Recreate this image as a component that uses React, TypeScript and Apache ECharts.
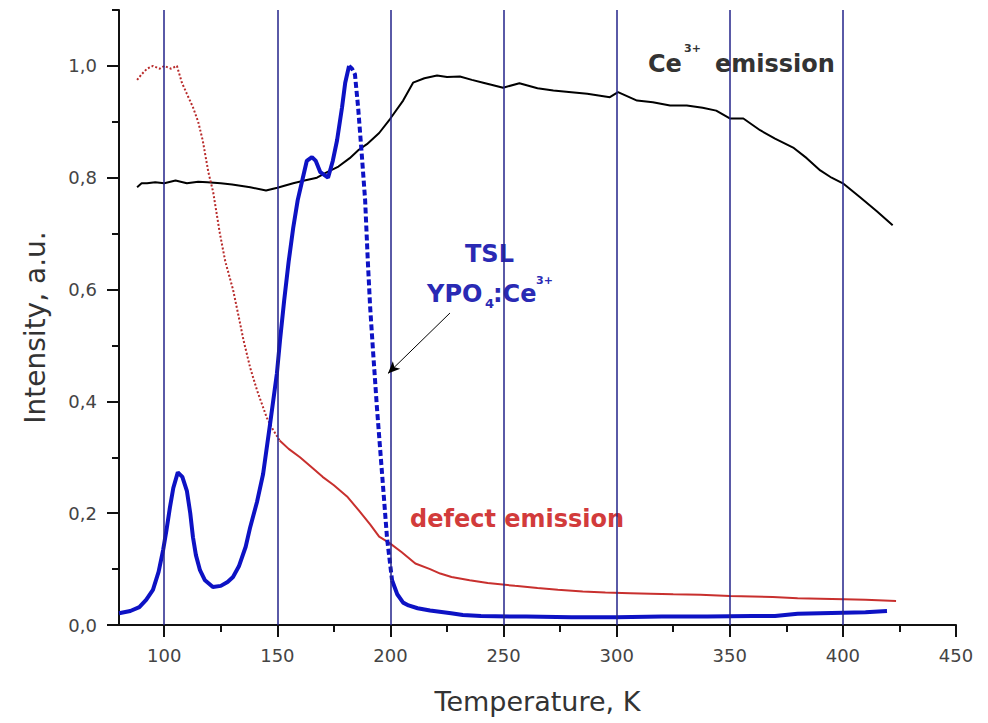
import React, { useEffect, useRef } from 'react';
import * as echarts from 'echarts';

// Axis ticks / labels
const xMajor = [100, 150, 200, 250, 300, 350, 400, 450];
const xMinor = [125, 175, 225, 275, 325, 375, 425];
const yMajor = [0, 0.2, 0.4, 0.6, 0.8, 1.0];
const yMinor = [0.1, 0.3, 0.5, 0.7, 0.9, 1.1];
const gridLinesX = [100, 150, 200, 250, 300, 350, 400];

// TSL YPO4:Ce3+ (blue)
const tslRise = [
  [80, 0.021], [85, 0.025], [89, 0.032], [92, 0.045], [95, 0.063], [97.5, 0.095], [99.5, 0.134],
  [101, 0.17], [102.5, 0.21], [104, 0.245], [106, 0.273], [108, 0.265], [110, 0.24], [111.5, 0.2],
  [112.7, 0.157], [114, 0.125], [115.8, 0.098], [118, 0.08], [121.5, 0.068], [125, 0.07], [128, 0.077],
  [130.4, 0.086], [133, 0.105], [136, 0.14], [138, 0.175], [141, 0.22], [143.7, 0.27], [146.8, 0.36],
  [149.8, 0.45], [151.2, 0.51], [153, 0.58], [155, 0.65], [157, 0.71], [159, 0.76], [161, 0.795],
  [163, 0.83], [165.3, 0.837], [167, 0.83], [169, 0.81], [172.4, 0.8], [174.5, 0.83], [176.4, 0.867],
  [178.6, 0.926], [180, 0.97], [181.7, 1.0],
];
const tslFall = [
  [181.7, 1.0], [183, 0.995], [184.3, 0.985], [185.7, 0.926], [187.4, 0.837], [188.8, 0.76], [190, 0.65],
  [191, 0.57], [192.3, 0.49], [194, 0.39], [196.3, 0.27], [198.5, 0.155], [200.7, 0.08],
];
const tslTail = [
  [200.7, 0.08], [203, 0.055], [205.6, 0.04], [208, 0.035], [212, 0.03], [217.5, 0.026], [226.8, 0.021],
  [232, 0.018], [240, 0.016], [260, 0.015], [280, 0.014], [300, 0.014], [320, 0.015], [340, 0.015],
  [360, 0.016], [370, 0.016], [380, 0.02], [390, 0.021], [400, 0.022], [410, 0.023], [419.5, 0.025],
];

// Defect emission (red)
const defectHigh = [
  [88, 0.975], [90, 0.985], [92.4, 0.995], [95, 1.0], [98, 0.995], [100, 1.0], [103, 0.995],
  [105.6, 1.0], [107.8, 0.97], [110, 0.95], [112.7, 0.926], [115, 0.9], [117, 0.867], [119.5, 0.81],
  [121.6, 0.775], [124.6, 0.7], [127, 0.65], [130.4, 0.6], [133.5, 0.54], [135, 0.51], [138, 0.46],
  [141, 0.42], [145.4, 0.37], [148, 0.35], [151, 0.33],
];
const defectLow = [
  [151, 0.33], [155, 0.315], [160, 0.3], [165.8, 0.28], [170, 0.265], [175, 0.25], [180.8, 0.23],
  [186, 0.205], [191, 0.18], [195, 0.158], [199.8, 0.146], [205, 0.13], [211, 0.11], [217.5, 0.1],
  [222, 0.092], [227, 0.086], [235, 0.08], [243, 0.075], [255, 0.07], [265, 0.066], [274, 0.063],
  [285, 0.06], [295, 0.058], [306, 0.057], [315, 0.056], [325, 0.055], [337, 0.054], [350, 0.052],
  [360, 0.051], [369, 0.05], [380, 0.048], [390, 0.047], [400.5, 0.046], [410, 0.045], [423.5, 0.043],
];

// Ce3+ emission (black)
const ceEmission = [
  [88, 0.783], [90, 0.79], [92.4, 0.79], [96, 0.792], [100, 0.79], [105, 0.795], [110, 0.79],
  [115, 0.793], [119, 0.792], [125, 0.79], [130, 0.788], [138, 0.783], [145, 0.777], [150, 0.782],
  [157, 0.79], [162, 0.795], [167.5, 0.8], [172, 0.81], [177, 0.82], [182, 0.835], [186, 0.85],
  [189.6, 0.86], [195, 0.88], [199.8, 0.905], [205.6, 0.938], [210, 0.97], [215, 0.978], [220.6, 0.983],
  [225, 0.98], [230.7, 0.981], [236, 0.975], [241, 0.97], [245, 0.966], [249.8, 0.961], [257, 0.969],
  [265, 0.96], [272, 0.956], [280, 0.953], [287, 0.95], [297, 0.944], [300.6, 0.953], [309, 0.938],
  [316, 0.935], [323.6, 0.929], [331, 0.929], [338, 0.925], [344, 0.92], [350, 0.906], [356, 0.906],
  [363.4, 0.885], [370, 0.87], [378, 0.854], [384, 0.835], [390, 0.813], [395, 0.8], [400, 0.79],
  [407.6, 0.765], [415, 0.74], [422, 0.715],
];

// Arrow pointing to the TSL curve
const arrowStart = [226.3, 0.558];
const arrowEnd = [198.9, 0.45];

const FONT = 'DejaVu Sans';
const BLUE = '#0d12c4';
const RED = '#c8302e';
const AXIS = '#111';

export default function App() {
  const ref = useRef<HTMLDivElement>(null);
  useEffect(() => {
    const chart = echarts.init(ref.current!, null, { renderer: 'svg' });
    const yFmt = (v: number) => v.toFixed(1).replace('.', ',');
    const option: any = {
      animation: false,
      backgroundColor: '#ffffff',
      grid: { left: 119, right: 32, top: 10, bottom: 98 },
      xAxis: [
        {
          type: 'value', min: 80, max: 450, position: 'bottom',
          axisLine: { show: true, onZero: false, lineStyle: { color: AXIS, width: 2 } },
          axisTick: { show: true, customValues: xMajor, length: 12, lineStyle: { color: AXIS, width: 2 } },
          axisLabel: { customValues: xMajor, margin: 21, fontSize: 18, color: '#444', fontFamily: FONT },
          splitLine: { show: false },
          name: 'Temperature, K', nameLocation: 'middle', nameGap: 63,
          nameTextStyle: { fontSize: 27, color: '#333', fontFamily: FONT },
        },
        {
          type: 'value', min: 80, max: 450, position: 'bottom',
          axisLine: { show: false, onZero: false },
          axisTick: { show: true, customValues: xMinor, length: 7, lineStyle: { color: AXIS, width: 2 } },
          axisLabel: { show: false },
          splitLine: { show: false },
        },
      ],
      yAxis: [
        {
          type: 'value', min: 0, max: 1.1, position: 'left',
          axisLine: { show: true, onZero: false, lineStyle: { color: AXIS, width: 2 } },
          axisTick: { show: true, customValues: yMajor, length: 12, lineStyle: { color: AXIS, width: 2 } },
          axisLabel: { customValues: yMajor, margin: 22, fontSize: 18, color: '#444', fontFamily: FONT, formatter: yFmt },
          splitLine: { show: false },
          name: 'Intensity, a.u.', nameLocation: 'middle', nameGap: 70, nameRotate: 90,
          nameTextStyle: { fontSize: 28, color: '#333', fontFamily: FONT, padding: [0, 20, 0, 0] },
        },
        {
          type: 'value', min: 0, max: 1.1, position: 'left',
          axisLine: { show: false, onZero: false },
          axisTick: { show: true, customValues: yMinor, length: 7, lineStyle: { color: AXIS, width: 2 } },
          axisLabel: { show: false },
          splitLine: { show: false },
        },
      ],
      series: [
        {
          name: 'grid', type: 'line', data: [], z: 1, silent: true,
          markLine: {
            silent: true, symbol: ['none', 'none'], animation: false,
            label: { show: false },
            lineStyle: { color: '#23238a', width: 1.5, type: 'solid' },
            emphasis: { disabled: true },
            data: gridLinesX.map((x) => ({ xAxis: x })),
          },
        },
        {
          name: 'Ce emission', type: 'line', data: ceEmission, showSymbol: false, z: 3,
          lineStyle: { color: '#000', width: 2 },
        },
        {
          name: 'defect high', type: 'line', data: defectHigh, showSymbol: false, z: 3,
          lineStyle: { color: '#b82a2a', width: 2, type: [2, 2] },
        },
        {
          name: 'defect low', type: 'line', data: defectLow, showSymbol: false, z: 3,
          lineStyle: { color: RED, width: 2 },
        },
        {
          name: 'TSL rise', type: 'line', data: tslRise, showSymbol: false, z: 4,
          lineStyle: { color: BLUE, width: 4 },
        },
        {
          name: 'TSL fall', type: 'line', data: tslFall, showSymbol: false, z: 4,
          lineStyle: { color: BLUE, width: 4, type: [6, 3] },
        },
        {
          name: 'TSL tail', type: 'line', data: tslTail, showSymbol: false, z: 4,
          lineStyle: { color: BLUE, width: 4 },
          markLine: {
            silent: true, symbol: ['none', 'arrow'], symbolSize: [8, 12], animation: false,
            label: { show: false },
            lineStyle: { color: '#000', width: 1, type: 'solid' },
            emphasis: { disabled: true },
            data: [[{ coord: arrowStart }, { coord: arrowEnd }]],
          },
        },
      ],
      graphic: [
        { type: 'text', left: 648, top: 52, style: { text: 'Ce', fontSize: 24, fontWeight: 'bold', fill: '#333', fontFamily: FONT } },
        { type: 'text', left: 684, top: 43, style: { text: '3+', fontSize: 11, fontWeight: 'bold', fill: '#333', fontFamily: FONT } },
        { type: 'text', left: 715, top: 52, style: { text: 'emission', fontSize: 24, fontWeight: 'bold', fill: '#333', fontFamily: FONT } },
        { type: 'text', left: 465, top: 242, style: { text: 'TSL', fontSize: 24, fontWeight: 'bold', fill: '#2a2ab4', fontFamily: FONT } },
        { type: 'text', left: 427, top: 282, style: { text: 'YPO', fontSize: 24, fontWeight: 'bold', fill: '#2a2ab4', fontFamily: FONT } },
        { type: 'text', left: 485, top: 297, style: { text: '4', fontSize: 13, fontWeight: 'bold', fill: '#2a2ab4', fontFamily: FONT } },
        { type: 'text', left: 493, top: 282, style: { text: ':Ce', fontSize: 24, fontWeight: 'bold', fill: '#2a2ab4', fontFamily: FONT } },
        { type: 'text', left: 536, top: 275, style: { text: '3+', fontSize: 11, fontWeight: 'bold', fill: '#2a2ab4', fontFamily: FONT } },
        { type: 'text', left: 410, top: 507, style: { text: 'defect emission', fontSize: 24, fontWeight: 'bold', fill: '#d23b3b', fontFamily: FONT } },
      ],
    };
    chart.setOption(option);
    return () => chart.dispose();
  }, []);
  return (
    <div
      ref={ref}
      style={{ position: 'fixed', left: 0, top: 0, width: 988, height: 723, background: '#fff' }}
    />
  );
}
